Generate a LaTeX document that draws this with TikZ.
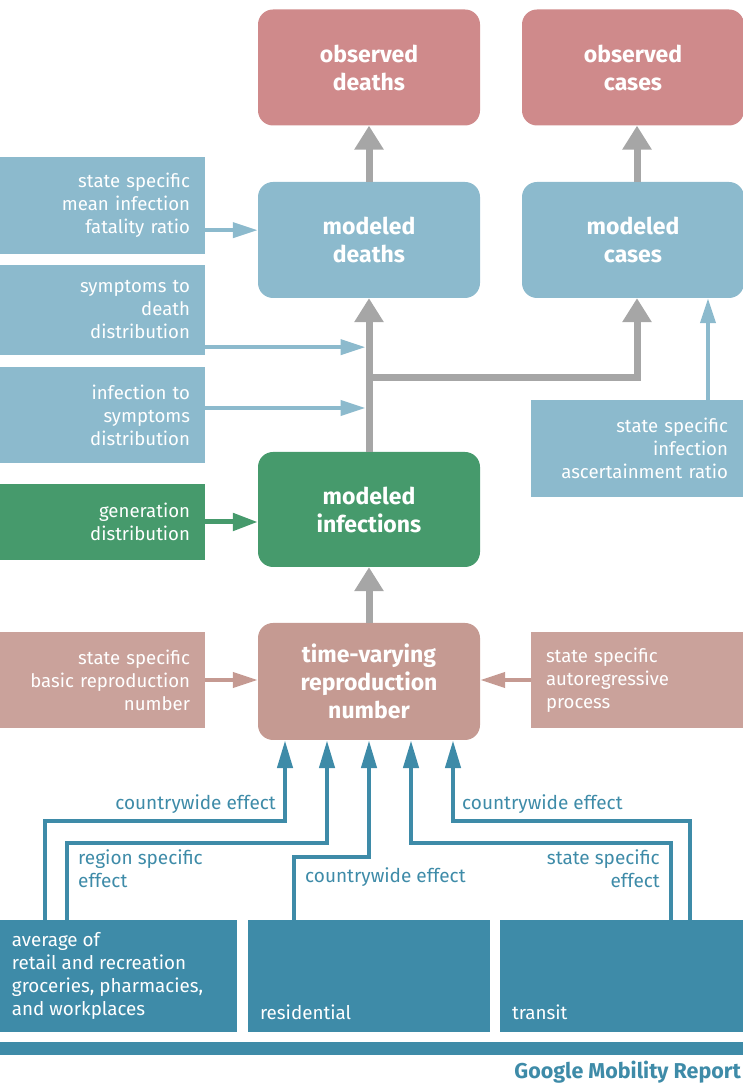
\documentclass[tikz,border=0pt]{standalone}
\usepackage{fontspec}
\setmainfont{Fira Sans}
\usetikzlibrary{arrows.meta}

\definecolor{obsred}{RGB}{207,138,139}
\definecolor{modblue}{RGB}{140,186,205}
\definecolor{infgreen}{RGB}{70,154,108}
\definecolor{rtan}{RGB}{197,154,146}
\definecolor{mobteal}{RGB}{62,139,168}
\definecolor{flowgray}{RGB}{166,166,166}

\begin{document}
\begin{tikzpicture}[x=1pt,y=1pt,
    main node/.style={rectangle,rounded corners=15pt,minimum width=222pt,
      minimum height=116pt,text=white,align=center,
      font=\bfseries\fontsize{23}{28}\selectfont},
    side node/.style={rectangle,minimum width=205pt,text width=175pt,
      inner xsep=15pt,align=right,text=white,
      font=\fontsize{18.6}{23}\selectfont},
    mob node/.style={rectangle,fill=mobteal,minimum height=112pt,inner sep=0pt},
    mob text/.style={text=white,align=left,anchor=south west,inner sep=12pt,
      font=\fontsize{18.8}{23}\selectfont},
    mob label/.style={text=mobteal,inner sep=0pt,
      font=\fontsize{19}{23}\selectfont},
    gray arrow/.style={color=flowgray,line width=7pt,
      -{Triangle[width=28pt,length=24pt]}},
    side arrow/.style={line width=4pt,-{Triangle[width=15pt,length=25pt]}},
    mob arrow/.style={color=mobteal,line width=4.5pt,
      -{Triangle[width=15pt,length=28pt]}}]

  \useasboundingbox (0,0) rectangle (743,1086);

  %% outcome and latent nodes
  \node[main node,fill=obsred] (obsD) at (369,1018.5) {observed\\deaths};
  \node[main node,fill=obsred] (obsC) at (633,1018.5) {observed\\cases};
  \node[main node,fill=modblue] (modD) at (369,846) {modeled\\deaths};
  \node[main node,fill=modblue] (modC) at (633,846) {modeled\\cases};
  \node[main node,fill=infgreen,minimum height=115pt] (modI) at (369,576.5) {modeled\\infections};
  \node[main node,fill=rtan,minimum height=117pt] (Rt) at (369,404.5) {time-varying\\reproduction\\number};

  %% inputs
  \node[side node,fill=modblue,minimum height=97pt] (ifr) at (102.5,880.5)
    {state specific\\mean infection\\fatality ratio};
  \node[side node,fill=modblue,minimum height=90pt] (s2d) at (102.5,776)
    {symptoms to\\death\\distribution};
  \node[side node,fill=modblue,minimum height=96pt] (i2s) at (102.5,671)
    {infection to\\symptoms\\distribution};
  \node[side node,fill=infgreen,minimum height=76pt] (gen) at (102.5,564)
    {generation\\distribution};
  \node[side node,fill=modblue,minimum height=97pt,minimum width=212pt,
    text width=182pt] (iar) at (637,637.5)
    {state specific\\infection\\ascertainment ratio};
  \node[side node,fill=rtan!92!white,minimum height=96pt] (R0) at (102.5,406)
    {state specific\\basic reproduction\\number};
  \node[side node,fill=rtan!92!white,minimum height=96pt,minimum width=212pt,
    text width=182pt,align=left,inner xsep=15pt] (arp) at (637,406)
    {state specific\\autoregressive\\process};

  %% mobility data
  \node[mob node,minimum width=237pt,
    label={[mob text]south west:{average of\\retail and recreation\\groceries, pharmacies,\\and workplaces}}]
    (avg) at (118.5,110) {};
  \node[mob node,minimum width=242pt,label={[mob text]south west:residential}]
    (res) at (369,110) {};
  \node[mob node,minimum width=243pt,label={[mob text]south west:transit}]
    (tra) at (621.5,110) {};
  \node[mob node,minimum width=743pt,minimum height=13pt] (bar) at (371.5,37.5) {};
  \node[text=mobteal,anchor=east,inner sep=0pt,
    font=\bfseries\fontsize{21.5}{23}\selectfont] (gmr) at (741,14) {Google Mobility Report};

  %% gray flow
  \coordinate (split) at (369,708);
  \draw[gray arrow] (modD) -- (obsD);
  \draw[gray arrow] ([xshift=4pt]modC.north) -- ([xshift=4pt]obsC.south);
  \draw[gray arrow] (modI) -- (modD);
  \draw[gray arrow] (Rt) -- (modI);
  \draw[gray arrow] (split) -| ([xshift=4pt]modC.south);

  %% side inputs
  \draw[side arrow,color=modblue] ([yshift=24pt]ifr.south east) coordinate (ifrout)
    -- (modD.west |- ifrout);
  \draw[side arrow,color=modblue,shorten >=3.5pt] ([yshift=8pt]s2d.south east) coordinate (s2dout)
    -- (modD.south |- s2dout);
  \draw[side arrow,color=modblue,shorten >=3.5pt] ([yshift=7pt]i2s.east) coordinate (i2sout)
    -- (modD.south |- i2sout);
  \draw[side arrow,color=modblue] ([xshift=71pt]iar.north) coordinate (iarout)
    -- (modC.south -| iarout);
  \draw[side arrow,color=infgreen,line width=5pt,-{Triangle[width=17pt,length=25pt]}]
    (gen.east) -- (modI.west |- gen.east);
  \draw[side arrow,color=rtan] (R0.east) -- (Rt.west |- R0.east);
  \draw[side arrow,color=rtan] (arp.west) -- (Rt.east |- arp.west);

  %% mobility effects
  \draw[mob arrow] ([xshift=45pt]avg.north west) -- ++(0,99) -| ([xshift=-84pt]Rt.south);
  \draw[mob arrow] ([xshift=67pt]avg.north west) -- ++(0,77) -| ([xshift=-42pt]Rt.south);
  \draw[mob arrow] ([xshift=46pt]res.north west) -- ++(0,63) -| (Rt.south);
  \draw[mob arrow] ([xshift=171pt]tra.north west) -- ++(0,77) -| ([xshift=42pt]Rt.south);
  \draw[mob arrow] ([xshift=190pt]tra.north west) -- ++(0,99) -| ([xshift=84pt]Rt.south);

  \node[mob label,anchor=south east] (cw1) at (276,272) {countrywide effect};
  \node[mob label,anchor=north west,align=left] (rse) at (78,237) {region specific\\effect};
  \node[mob label,anchor=west] (cw2) at (305,209) {countrywide effect};
  \node[mob label,anchor=north east,align=right] (sse) at (660,237) {state specific\\effect};
  \node[mob label,anchor=south west] (cw3) at (462,272) {countrywide effect};
\end{tikzpicture}
\end{document}
